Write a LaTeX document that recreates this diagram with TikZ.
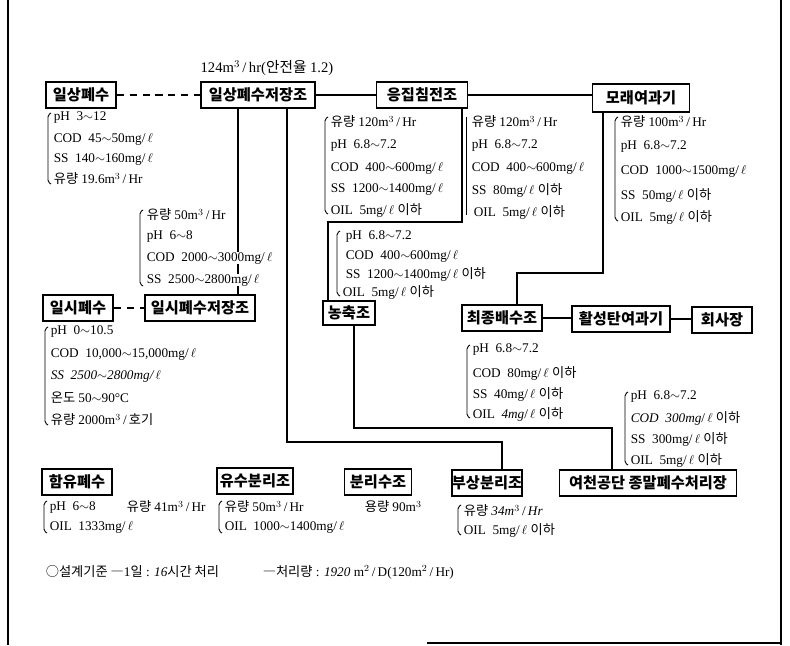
\documentclass[tikz,border=0pt]{standalone}
\usepackage{fontspec}
\setmainfont{Liberation Serif}
\newfontfamily\krfont{Noto Sans CJK KR}
\newcommand\ko[1]{{\krfont #1}}
\newcommand\wv{\ensuremath{\sim}}
\newcommand\litre{\ensuremath{\ell}}
\newcommand\cubm{m\ensuremath{^3}}
\newcommand\sqm{m\ensuremath{^2}}
\begin{document}
\begin{tikzpicture}[x=0.03cm,y=-0.03cm,
  box/.style={draw, line width=1.4pt, font=\krfont\bfseries\fontsize{13}{13}\selectfont,
    minimum height=0.78cm, inner sep=0pt},
  info/.style={anchor=west, inner sep=0.5pt, font=\fontsize{11.3}{11.3}\selectfont},
  infow/.style={info, fill=white},
  conn/.style={line width=1.1pt},
  dashline/.style={line width=1.1pt, dash pattern=on 6pt off 5pt},
  brk/.style={line width=0.8pt, rounded corners=1.5pt},
  frame/.style={line width=1.1pt}]
\useasboundingbox (0,0) rectangle (790,645);
\newcommand\bra[3]{\draw[brk] ({#1+3},#2) -- (#1,{#2+2}) -- (#1,{#3-2}) -- ({#1+3},#3);}
% frame
\draw[frame] (8,0) -- (8,645);
\draw[frame] (781,0) -- (781,645);
\draw[frame] (427,643) -- (781,643);
% process boxes
\node[box, minimum width=2.1cm]  (A) at (81,95)  {일상폐수};
\node[box, minimum width=3.42cm] (B) at (258,95) {일상폐수저장조};
\node[box, minimum width=2.73cm] (C) at (422,95) {응집침전조};
\node[box, minimum width=2.91cm, minimum height=0.84cm] (D) at (641,98) {모래여과기};
\node[box, minimum width=2.1cm]  (E) at (78,308) {일시폐수};
\node[box, minimum width=3.3cm]  (F) at (200,308) {일시폐수저장조};
\node[box, minimum width=1.56cm, minimum height=0.72cm] (G) at (349,313) {농축조};
\node[box, minimum width=2.4cm]  (H) at (502,318) {최종배수조};
\node[box, minimum width=2.94cm] (I) at (621,319) {활성탄여과기};
\node[box, minimum width=1.8cm]  (J) at (722,320) {회사장};
\node[box, minimum width=2.1cm]  (K) at (77,482)  {함유폐수};
\node[box, minimum width=2.28cm] (L) at (255,481) {유수분리조};
\node[box, minimum width=2.01cm] (M) at (378,482) {분리수조};
\node[box, minimum width=2.01cm] (N) at (487,483) {부상분리조};
\node[box, minimum width=5.31cm] (O) at (648,483) {여천공단 종말폐수처리장};
% routing points
\coordinate (x238) at (238,0);
\coordinate (p1) at (287,442);
\coordinate (p2) at (502,442);
\coordinate (q1) at (462,222);
\coordinate (q2) at (328,222);
\coordinate (r1) at (354,428);
\coordinate (r2) at (612,428);
\coordinate (s1) at (603,273);
\coordinate (s2) at (517,273);
% connectors
\draw[dashline] (A.east) -- (B.west);
\draw[dashline] (E.east) -- (F.west);
\draw[conn] (B.east) -- (C.west);
\draw[conn] (C.east) -- (C.east -| D.west);
\draw[conn] (H.east) -- (H.east -| I.west);
\draw[conn] (I.east) -- (I.east -| J.west);
\draw[conn] (B.south -| x238) -- (F.north -| x238);
\draw[conn] (B.south -| p1) -- (p1) -- (p2) -- (p2 |- N.north);
\draw[conn] (C.south -| q1) -- (q1) -- (q2) -- (q2 |- G.north);
\draw[conn] (G.south -| r1) -- (r1) -- (r2) -- (r2 |- O.north);
\draw[conn] (D.south -| s1) -- (s1) -- (s2) -- (s2 |- H.north);
% flow label
\node[info, anchor=center, font=\fontsize{12.5}{12.5}\selectfont] (lab) at (267,68) {124\cubm\,/\,hr(\ko{안전율} 1.2)};
% block a
\bra{48}{113}{184}
\node[info] (a1) at (53,118) {pH\ \ 3\wv12};
\node[info] (a2) at (53,139) {COD\ \ 45\wv50mg/\,\litre};
\node[info] (a3) at (53,159) {SS\ \ 140\wv160mg/\,\litre};
\node[info] (a4) at (53,179) {\ko{유량} 19.6\cubm\,/\,Hr};
% block b
\bra{140}{210}{286}
\node[infow] (b1) at (146,215) {\ko{유량} 50\cubm\,/\,Hr};
\node[infow] (b2) at (146,237) {pH\ \ 6\wv8};
\node[infow] (b3) at (146,258) {COD\ \ 2000\wv3000mg/\,\litre};
\node[infow] (b4) at (146,280) {SS\ \ 2500\wv2800mg/\,\litre};
% block c
\bra{325}{117}{214}
\node[info] (c1) at (330,122) {\ko{유량} 120\cubm\,/\,Hr};
\node[info] (c2) at (330,146) {pH\ \ 6.8\wv7.2};
\node[info] (c3) at (330,168) {COD\ \ 400\wv600mg/\,\litre};
\node[info] (c4) at (330,189) {SS\ \ 1200\wv1400mg/\,\litre};
\node[info] (c5) at (330,210) {OIL\ \ 5mg/\,\litre\ \ko{이하}};
% block d
\draw[brk] (466,117) -- (466,215);
\node[info] (d1) at (471,122) {\ko{유량} 120\cubm\,/\,Hr};
\node[info] (d2) at (471,146) {pH\ \ 6.8\wv7.2};
\node[info] (d3) at (471,168) {COD\ \ 400\wv600mg/\,\litre};
\node[info] (d4) at (471,190) {SS\ \ 80mg/\,\litre\ \ko{이하}};
\node[info] (d5) at (473,212) {OIL\ \ 5mg/\,\litre\ \ko{이하}};
% block e
\bra{615}{117}{221}
\node[info] (e1) at (620,122) {\ko{유량} 100\cubm\,/\,Hr};
\node[info] (e2) at (620,147) {pH\ \ 6.8\wv7.2};
\node[info] (e3) at (620,171) {COD\ \ 1000\wv1500mg/\,\litre};
\node[info] (e4) at (620,195) {SS\ \ 50mg/\,\litre\ \ko{이하}};
\node[info] (e5) at (620,217) {OIL\ \ 5mg/\,\litre\ \ko{이하}};
% block f
\bra{337}{231}{296}
\node[info] (f1) at (345,237) {pH\ \ 6.8\wv7.2};
\node[info] (f2) at (345,256) {COD\ \ 400\wv600mg/\,\litre};
\node[info] (f3) at (345,274) {SS\ \ 1200\wv1400mg/\,\litre\ \ko{이하}};
\node[info] (f4) at (342,292) {OIL\ \ 5mg/\,\litre\ \ko{이하}};
% block g
\bra{45}{327}{425}
\node[info] (g1) at (50,332) {pH\ \ 0\wv10.5};
\node[info] (g2) at (50,354) {COD\ \ 10,000\wv15,000mg/\,\litre};
\node[info] (g3) at (50,376) {\textit{SS\ \ 2500\wv2800mg/\,\litre}};
\node[info] (g4) at (50,398) {\ko{온도} 50\wv90°C};
\node[info] (g5) at (50,420) {\ko{유량} 2000\cubm\,/\,\ko{호기}};
% block h
\bra{467}{345}{418}
\node[info] (h1) at (472,350) {pH\ \ 6.8\wv7.2};
\node[info] (h2) at (472,373) {COD\ \ 80mg/\,\litre\ \ko{이하}};
\node[info] (h3) at (472,394) {SS\ \ 40mg/\,\litre\ \ko{이하}};
\node[info] (h4) at (472,414) {OIL\ \ \textit{4mg}/\,\litre\ \ko{이하}};
% block i
\bra{625}{392}{465}
\node[info] (i1) at (630,397) {pH\ \ 6.8\wv7.2};
\node[info] (i2) at (630,418) {\textit{COD\ \ 300mg}/\,\litre\ \ko{이하}};
\node[info] (i3) at (630,439) {SS\ \ 300mg/\,\litre\ \ko{이하}};
\node[info] (i4) at (630,460) {OIL\ \ 5mg/\,\litre\ \ko{이하}};
% bottom blocks
\bra{44}{501}{533}
\node[info] (k1) at (49,507) {pH\ \ 6\wv8};
\node[info] (k2) at (126,507) {\ko{유량} 41\cubm\,/\,Hr};
\node[info] (k3) at (49,527) {OIL\ \ 1333mg/\,\litre};
\bra{219}{501}{533}
\node[info] (l1) at (224,507) {\ko{유량} 50\cubm\,/\,Hr};
\node[info] (l2) at (224,527) {OIL\ \ 1000\wv1400mg/\,\litre};
\node[info] (m1) at (364,507) {\ko{용량} 90\cubm};
\bra{458}{505}{535}
\node[info] (n1) at (463,511) {\ko{유량} \textit{34m}\ensuremath{^3}\,/\,\textit{Hr}};
\node[info] (n2) at (463,530) {OIL\ \ 5mg/\,\litre\ \ko{이하}};
% footnote
\node[info] (t1) at (45,572) {\ko{○설계기준 ―}1\ko{일} : \textit{16}\ko{시간 처리}};
\node[info] (t2) at (262,572) {\ko{―처리량} : \textit{1920}\ \sqm\,/\,D(120\sqm\,/\,Hr)};
\end{tikzpicture}
\end{document}
